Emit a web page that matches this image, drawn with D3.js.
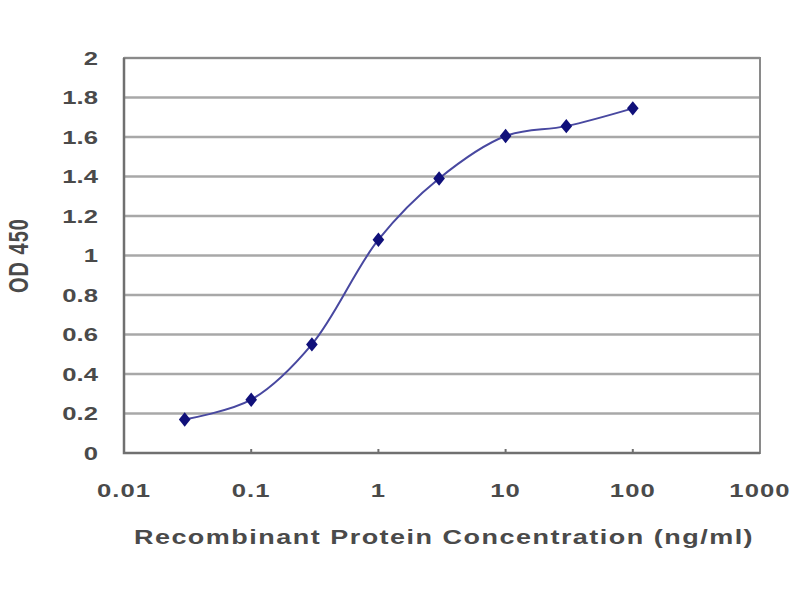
<!DOCTYPE html>
<html>
<head>
<meta charset="utf-8">
<script src="https://cdn.jsdelivr.net/npm/d3@7"></script>
<style>
  body { margin: 0; background: #fff; }
  text { font-family: "Liberation Sans", Arial, sans-serif; fill: #4a4a4a; font-weight: bold; }
</style>
</head>
<body>
<div id="chart"></div>
<script>
// data
const concentrations = [0.03, 0.1, 0.3, 1, 3, 10, 30, 100];
const odValues = [0.17, 0.27, 0.55, 1.08, 1.39, 1.605, 1.655, 1.745];
const xTicks = [0.01, 0.1, 1, 10, 100, 1000];
const yTicks = [0, 0.2, 0.4, 0.6, 0.8, 1, 1.2, 1.4, 1.6, 1.8, 2];

(function curve(){
    let width = 800, height = 600,
    margin = ({top: 58, right: 40, bottom: 147, left: 124});
    const stretch = 1.35; // the picture's text is wide

    const svg = d3.select("#chart")
    .append("svg")
    .attr("width", width)
    .attr("height", height);

    let x = d3.scaleLog()
    .domain([0.01, 1000])
    .range([margin.left, width - margin.right]);

    let y = d3.scaleLinear()
    .domain([0, 2])
    .range([height - margin.bottom, margin.top]);

    // horizontal grid
    svg.append("g")
    .selectAll("line")
    .data(yTicks.slice(1))
    .join("line")
    .attr("x1", margin.left)
    .attr("x2", width - margin.right)
    .attr("y1", d => y(d))
    .attr("y2", d => y(d))
    .attr("stroke", "#a8a8a8")
    .attr("stroke-width", 2.5);

    // frame
    svg.append("rect")
    .attr("x", margin.left)
    .attr("y", margin.top)
    .attr("width", width - margin.right - margin.left)
    .attr("height", height - margin.bottom - margin.top)
    .attr("fill", "none")
    .attr("stroke", "#8a8a8a")
    .attr("stroke-width", 2);

    svg.append("path")
    .attr("d", `M${margin.left},${margin.top}V${height - margin.bottom}H${width - margin.right}`)
    .attr("fill", "none")
    .attr("stroke", "#707070")
    .attr("stroke-width", 2.5);

    // y axis labels
    svg.append("g")
    .selectAll("text")
    .data(yTicks)
    .join("text")
    .attr("transform", d => `translate(${margin.left - 26},${y(d)}) scale(${stretch},1)`)
    .attr("dy", "0.36em")
    .attr("text-anchor", "end")
    .attr("font-size", 19)
    .text(d => d3.format("~g")(d));

    // x axis tick marks (small, upward) and labels
    svg.append("g")
    .selectAll("line")
    .data(xTicks.slice(1, -1))
    .join("line")
    .attr("x1", d => x(d))
    .attr("x2", d => x(d))
    .attr("y1", height - margin.bottom)
    .attr("y2", height - margin.bottom - 4)
    .attr("stroke", "#707070")
    .attr("stroke-width", 2);

    svg.append("g")
    .selectAll("text")
    .data(xTicks)
    .join("text")
    .attr("transform", d => `translate(${x(d)},${height - margin.bottom + 44}) scale(${stretch},1)`)
    .attr("text-anchor", "middle")
    .attr("font-size", 19)
    .attr("letter-spacing", 0.8)
    .text(d => String(d));

    // axis titles
    svg.append("text")
    .attr("transform", `translate(444,544) scale(${stretch},1)`)
    .attr("text-anchor", "middle")
    .attr("font-size", 20)
    .attr("letter-spacing", 1.1)
    .text("Recombinant Protein Concentration (ng/ml)");

    svg.append("text")
    .attr("transform", `translate(28, ${y(1)}) scale(${stretch},1) rotate(-90)`)
    .attr("text-anchor", "middle")
    .attr("font-size", 20)
    .attr("letter-spacing", 1)
    .text("OD 450");

    // line + markers
    const pts = concentrations.map((c, i) => [c, odValues[i]]);

    svg.append("path")
    .datum(pts)
    .attr("fill", "none")
    .attr("stroke", "#4848a0")
    .attr("stroke-width", 2)
    .attr("d", d3.line()
        .x(d => x(d[0]))
        .y(d => y(d[1]))
        .curve(d3.curveCatmullRom.alpha(0.5)));

    svg.append("g")
    .selectAll("path")
    .data(pts)
    .join("path")
    .attr("transform", d => `translate(${x(d[0])},${y(d[1])}) scale(1.4,1)`)
    .attr("d", d3.symbol(d3.symbolDiamond, 60))
    .attr("fill", "#10107a");
})();
</script>
</body>
</html>
